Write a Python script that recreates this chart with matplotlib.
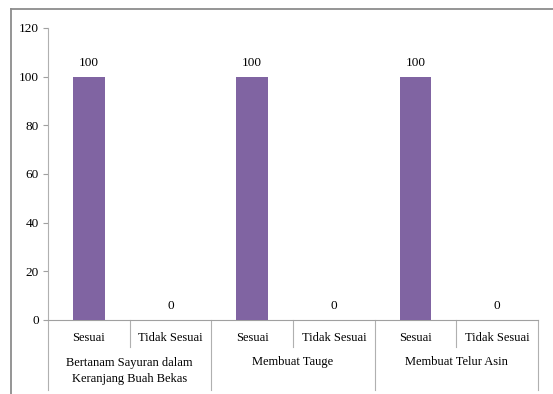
import matplotlib
matplotlib.use("Agg")
import matplotlib.pyplot as plt
from matplotlib.lines import Line2D
import matplotlib.transforms as mtransforms

groups = ["Bertanam Sayuran dalam\nKeranjang Buah Bekas", "Membuat Tauge", "Membuat Telur Asin"]
sub_labels = ["Sesuai", "Tidak Sesuai"]
values = [100, 0, 100, 0, 100, 0]
yticks = [0, 20, 40, 60, 80, 100, 120]

plt.rcParams['font.family'] = ['Liberation Serif', 'DejaVu Serif']

W, H = 553, 394
fig = plt.figure(figsize=(W / 100, H / 100), dpi=100)
fig.patch.set_facecolor('white')

# outer frame (only top and left visible)
fig.add_artist(Line2D([11 / W, 11 / W], [0, 1 - 9 / H], transform=fig.transFigure, color='#8c8c8c', lw=1.3))
fig.add_artist(Line2D([11 / W, 1], [1 - 9 / H, 1 - 9 / H], transform=fig.transFigure, color='#8c8c8c', lw=1.3))

ax_left, ax_right = 48, 538
ax_top, ax_bot = 28, 320
ax = fig.add_axes([ax_left / W, (H - ax_bot) / H, (ax_right - ax_left) / W, (ax_bot - ax_top) / H])
axh = ax_bot - ax_top

n = len(values)
x = list(range(n))
ax.bar(x, values, width=0.39, color='#8064A2', zorder=3)
ax.set_xlim(-0.5, n - 0.5)
ax.set_ylim(0, 120)
ax.set_yticks(yticks)
ax.set_yticklabels([str(t) for t in yticks], fontsize=9.5)
ax.tick_params(axis='y', length=3.5, pad=3, color='#a0a0a0', width=0.8)
ax.set_xticks([])

for s in ['top', 'right']:
    ax.spines[s].set_visible(False)
ax.spines['left'].set_color('#b0b0b0')
ax.spines['left'].set_linewidth(0.8)
ax.spines['bottom'].set_color('#a0a0a0')
ax.spines['bottom'].set_linewidth(0.8)

# data labels
for xi, v in zip(x, values):
    ax.annotate(str(v), xy=(xi, v), xytext=(0, 14 * 72 / 100), textcoords='offset points',
                ha='center', va='center', fontsize=9.5)

trans = mtransforms.blended_transform_factory(ax.transData, ax.transAxes)

def py(px):
    return (ax_bot - px) / axh

# sub-category labels and separators
for i in range(n):
    ax.text(i, py(338), sub_labels[i % 2], transform=trans, ha='center', va='center', fontsize=9)
for i in range(n + 1):
    xb = i - 0.5
    y2 = py(390) if i % 2 == 0 else py(347)
    ax.add_line(Line2D([xb, xb], [0, y2], transform=trans, color='#b0b0b0', lw=0.8, clip_on=False))

for g, name in enumerate(groups):
    cx = 2 * g + 0.5
    if "\n" in name:
        ax.text(cx, py(371), name, transform=trans, ha='center', va='center', fontsize=9, linespacing=1.35)
    else:
        ax.text(cx, py(362), name, transform=trans, ha='center', va='center', fontsize=9)

fig.savefig("out.png", dpi=100, facecolor='white')
